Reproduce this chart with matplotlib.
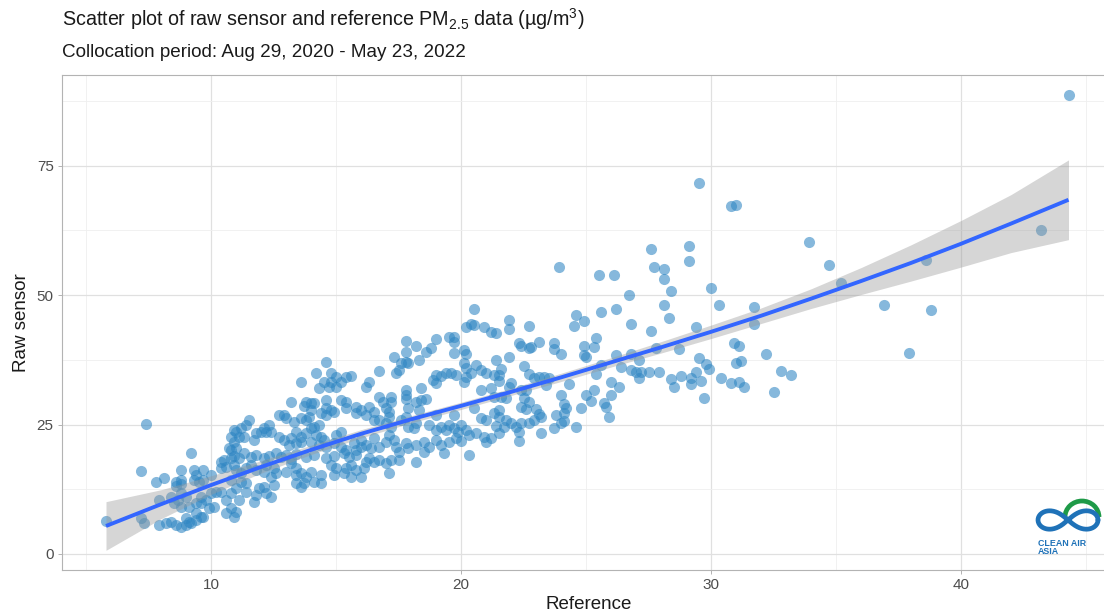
import numpy as np
import matplotlib
matplotlib.use("Agg")
import matplotlib.pyplot as plt
from matplotlib.patches import Arc

plt.rcParams["font.family"] = ["Liberation Sans", "DejaVu Sans"]
plt.rcParams["mathtext.fontset"] = "custom"
plt.rcParams["mathtext.rm"] = "Liberation Sans"
plt.rcParams["mathtext.it"] = "Liberation Sans:italic"

# collocated pairs: reference monitor (x) vs raw low-cost sensor (y)
reference = [
    # high end
    33.9, 34.7, 35.2, 36.9, 38.8, 37.9, 38.6, 43.2, 44.3, 32.8, 33.2, 32.2,
    # 27-32
    29.5, 30.8, 31.0, 27.6, 29.1, 29.1, 27.7, 28.1, 28.1, 28.4, 30.0, 30.3, 31.7, 31.7,
    28.1, 28.3, 26.7, 26.8, 27.6, 29.4, 27.8, 28.7, 30.9, 31.1, 27.1, 29.5, 29.8, 29.9,
    31.0, 31.2, 26.8, 27.0, 27.2, 27.5, 27.9, 27.1, 28.4, 28.8, 29.2, 29.4, 29.6, 28.5,
    29.2, 30.4, 30.8, 31.1, 31.3, 32.5, 29.7,
    # 21-27
    23.9, 25.5, 26.1, 25.6, 26.2, 24.6, 24.9, 24.5, 21.9, 22.7, 21.4, 23.1, 23.7, 23.7,
    24.0, 22.3, 22.4, 22.7, 22.8, 25.4, 24.9, 25.3, 24.9, 25.0, 21.9, 21.4, 26.2, 25.6,
    26.8, 26.4, 22.5, 21.6, 21.5, 21.5, 22.7, 22.9, 23.1, 23.3, 23.5, 23.4, 24.3, 25.4,
    26.0, 26.3, 25.0, 25.3, 26.0, 22.0, 21.9, 22.4, 22.6, 24.0, 21.6, 21.8, 22.5, 22.7,
    24.1, 24.2, 24.8, 25.2, 25.7, 25.8, 25.9, 22.4, 22.6, 21.5, 23.0, 23.1, 23.2, 22.9,
    23.8, 24.1, 24.1, 24.0, 24.6, 23.7, 23.2, 22.3, 22.3, 21.8, 21.7, 22.0, 22.2, 22.4,
    22.7, 21.4, 21.5,
    # 16-21.5
    20.2, 20.4, 20.5, 20.9, 21.2, 19.7, 19.7, 19.5, 19.0, 17.8, 18.2, 17.8, 18.6, 18.8,
    19.7, 20.1, 20.2, 17.3, 17.6, 17.8, 17.5, 17.4, 17.9, 18.3, 16.7, 20.1, 20.2, 20.6,
    20.8, 20.4, 21.0, 21.3, 19.0, 19.2, 19.4, 19.6, 19.8, 18.9, 19.0, 20.1, 20.2, 16.3,
    16.2, 17.8, 17.8, 18.4, 20.8, 21.2, 21.3, 16.7, 16.9, 17.2, 17.2, 17.0, 17.1, 17.8,
    18.2, 18.4, 18.6, 17.9, 18.3, 19.0, 19.7, 20.5, 20.8, 21.0, 21.3, 16.3, 16.5, 16.2,
    16.5, 16.7, 17.1, 17.0, 17.2, 17.6, 17.8, 17.9, 18.1, 18.2, 18.7, 19.0, 19.2, 19.4,
    19.5, 19.7, 19.9, 20.0, 20.2, 20.3, 19.8, 20.0, 19.5, 20.6, 20.9, 21.0, 21.2, 19.0,
    19.2, 19.3, 18.5, 18.7, 18.5, 17.8, 17.9, 18.2, 17.1, 17.3, 17.0, 17.4, 17.5, 16.5,
    16.2, 16.4, 16.7, 16.3, 16.5, 16.7, 17.0, 17.2, 17.5, 18.2, 20.3, 17.1, 21.5, 20.5,
    21.9,
    # 10.8-16.2
    14.6, 14.2, 13.6, 14.8, 15.0, 15.4, 15.6, 14.5, 14.8, 15.2, 14.3, 14.7, 15.0, 13.2,
    13.8, 14.0, 14.1, 14.0, 13.7, 14.6, 14.6, 14.8, 14.9, 15.2, 15.4, 15.4, 15.8, 16.0,
    15.8, 12.7, 12.9, 13.0, 13.3, 13.6, 13.8, 13.9, 14.4, 14.6, 14.1, 14.3, 14.0, 12.3,
    12.1, 12.0, 12.2, 12.4, 11.4, 11.2, 11.0, 11.3, 11.1, 11.5, 11.8, 11.7, 10.8, 10.9,
    10.8, 11.0, 12.7, 12.9, 13.2, 13.1, 13.4, 13.6, 13.8, 14.2, 13.4, 13.6, 14.0, 14.4,
    14.5, 14.3, 14.6, 15.0, 15.2, 14.9, 15.2, 15.4, 15.7, 15.8, 16.0, 16.0,
    10.9, 11.1, 11.3, 11.6, 11.8, 12.1, 12.3, 12.6, 12.8, 13.0, 13.2, 13.4, 13.8, 14.1,
    14.6, 14.9, 15.3, 15.5, 15.8,
    13.2, 13.4, 13.0, 13.4, 13.6, 13.8, 13.4, 13.6, 13.7, 14.0, 14.4, 14.4, 14.1,
    14.8, 15.0, 15.4, 15.6, 15.8, 16.1, 16.2, 14.9, 15.3, 15.6, 16.0,
    10.9, 11.0, 11.2, 11.4, 11.6, 11.8, 12.1, 12.2, 12.5, 12.6, 12.4,
    10.8, 11.2, 11.4, 11.0, 10.8, 11.4, 11.8, 11.9, 12.1, 12.2, 12.5, 12.4, 11.7, 11.1,
    10.8, 11.0, 10.9,
    # low end
    7.4, 9.2, 7.2, 7.8, 8.1, 8.8, 8.6, 8.8, 8.8, 8.6, 9.3, 9.7, 9.4, 9.3, 9.5, 9.7, 10.0,
    10.4, 10.6, 10.4, 10.7, 10.9, 10.5, 10.8,
    7.9, 8.4, 8.8, 9.0, 8.7, 8.5, 8.8, 9.1, 9.4, 9.6, 9.6, 9.8, 9.9, 10.1, 9.4, 9.7, 9.0,
    10.0, 10.2, 10.4, 10.6, 10.6,
    5.8, 7.2, 7.3, 7.9, 8.2, 8.4, 8.6, 8.8, 9.1, 9.4, 9.6, 9.0, 9.2,
]
raw_sensor = [
    60.2, 55.8, 52.3, 48.1, 47.1, 38.8, 56.8, 62.5, 88.6, 35.3, 34.6, 38.6,
    71.6, 67.2, 67.4, 58.9, 59.5, 56.6, 55.4, 55.0, 53.1, 50.8, 51.3, 48.1, 47.7, 44.4,
    48.1, 45.6, 50.0, 44.4, 43.1, 43.8, 39.8, 39.6, 40.7, 40.2, 37.5, 37.8, 36.7, 35.7,
    36.9, 37.3, 35.5, 35.1, 35.1, 35.1, 35.1, 34.0, 33.8, 34.4, 34.0, 35.1, 33.4, 32.2,
    32.8, 34.0, 33.0, 33.2, 32.2, 31.3, 30.1,
    55.4, 53.9, 53.9, 46.7, 47.3, 46.1, 45.0, 44.0, 45.2, 44.0, 42.7, 40.9, 40.7, 39.6,
    38.6, 40.7, 40.2, 39.8, 40.0, 41.7, 40.2, 40.0, 38.4, 38.0, 38.0, 37.5, 38.4, 36.5,
    38.6, 36.1, 36.3, 35.7, 34.6, 33.4, 34.7, 34.0, 34.2, 34.2, 34.0, 32.6, 32.8, 34.7,
    33.2, 32.2, 30.7, 31.7, 30.7, 33.0, 32.2, 31.7, 31.7, 30.7, 30.3, 30.1, 30.1, 29.3,
    29.0, 28.2, 28.2, 29.5, 29.2, 28.4, 26.4, 28.4, 28.0, 27.8, 28.0, 27.0, 26.4, 25.9,
    26.8, 27.2, 25.7, 25.3, 24.5, 24.3, 23.4, 23.6, 21.8, 25.9, 24.5, 25.3, 24.5, 25.3,
    25.3, 24.7, 26.4,
    43.8, 44.4, 44.2, 43.8, 42.9, 41.9, 40.9, 41.9, 41.5, 41.1, 40.2, 39.0, 39.0, 39.8,
    38.8, 39.4, 38.6, 38.0, 36.9, 37.1, 35.5, 34.9, 36.9, 37.5, 35.3, 36.9, 35.9, 36.5,
    35.5, 34.9, 34.9, 34.6, 34.6, 34.4, 34.9, 34.9, 34.6, 33.6, 33.0, 33.2, 34.2, 33.2,
    32.2, 31.7, 30.7, 32.0, 31.7, 32.0, 30.3, 30.3, 29.3, 30.3, 29.3, 28.2, 27.4, 29.9,
    29.3, 29.7, 29.9, 28.2, 27.8, 26.8, 26.8, 28.2, 26.3, 25.9, 27.2, 28.4, 27.4, 26.8,
    25.9, 25.9, 26.4, 25.3, 24.5, 25.9, 26.4, 24.5, 24.3, 25.3, 24.9, 23.9, 24.5, 23.9,
    24.9, 24.3, 23.6, 24.9, 23.9, 23.0, 22.4, 21.8, 21.6, 23.4, 22.6, 21.6, 22.4, 22.0,
    21.0, 19.5, 21.6, 20.7, 19.7, 21.4, 20.5, 21.0, 23.0, 22.0, 21.6, 20.7, 19.7, 22.4,
    21.0, 20.5, 20.7, 18.5, 17.8, 18.1, 17.6, 18.1, 18.1, 17.8, 19.1, 15.6, 23.4, 47.3,
    43.4,
    37.1, 34.9, 33.2, 34.9, 34.2, 34.2, 34.4, 33.2, 33.2, 33.2, 32.0, 32.2, 32.2, 29.3,
    29.3, 29.2, 29.2, 27.8, 28.6, 29.7, 28.2, 27.8, 27.4, 29.7, 29.3, 28.2, 28.4, 27.8,
    27.2, 26.8, 26.8, 26.3, 25.5, 26.3, 25.9, 26.4, 27.2, 26.8, 24.5, 24.9, 24.3, 24.9,
    24.3, 23.6, 23.6, 23.6, 24.9, 24.3, 23.6, 22.6, 22.6, 25.9, 23.4, 22.0, 22.6, 21.6,
    20.1, 20.5, 22.6, 22.0, 22.4, 21.0, 23.6, 22.6, 23.4, 23.0, 21.4, 21.6, 21.6, 22.6,
    22.0, 21.0, 20.7, 23.0, 23.6, 21.4, 20.7, 20.1, 21.4, 20.1, 20.7, 22.0,
    19.0, 18.6, 19.4, 18.8, 19.2, 18.5, 19.0, 19.5, 18.7, 19.1, 18.4, 19.3, 18.8, 19.2,
    18.6, 19.0, 19.4, 18.7, 19.1,
    17.6, 16.6, 15.8, 15.3, 15.6, 14.9, 13.7, 12.9, 13.7, 15.8, 15.3, 13.7, 13.9,
    17.2, 16.6, 16.6, 17.2, 16.2, 16.6, 17.8, 15.3, 15.6, 14.9, 14.9,
    17.2, 16.2, 15.6, 16.6, 17.2, 16.2, 15.8, 17.2, 16.6, 15.6, 14.9,
    14.3, 13.9, 13.7, 12.7, 11.8, 12.0, 11.4, 12.7, 12.9, 11.8, 13.3, 11.0, 10.0, 10.4,
    8.9, 8.1, 7.1,
    25.1, 19.5, 16.0, 13.9, 14.7, 16.2, 13.9, 14.3, 13.5, 13.1, 16.2, 16.2, 15.3, 14.3,
    13.9, 14.3, 15.3, 17.8, 16.8, 16.6, 20.5, 23.9, 18.1, 18.5,
    10.4, 11.0, 11.8, 11.0, 10.4, 9.8, 9.1, 9.1, 9.8, 11.0, 9.8, 10.4, 8.9, 9.1, 7.9, 7.1,
    6.9, 11.8, 12.0, 12.0, 10.4, 7.9,
    6.4, 6.9, 6.0, 5.6, 6.0, 6.2, 5.6, 5.2, 6.2, 6.6, 7.1, 5.6, 6.0,
]
assert len(reference) == len(raw_sensor)

# smoothed trend with its 95% confidence band
fit_x = [5.8, 8, 10, 12, 14, 16, 18, 20, 22, 24, 26, 28, 30, 32, 34, 36, 38, 40, 42, 44.3]
fit_y = [5.4, 9.6, 13.3, 16.8, 20.1, 23.2, 26.0, 28.6, 31.3, 34.1, 37.0, 39.9, 42.9,
         46.0, 49.3, 52.7, 56.2, 59.9, 63.8, 68.4]
fit_lo = [0.7, 6.8, 11.5, 15.6, 19.2, 22.4, 25.3, 27.9, 30.6, 33.3, 36.1, 38.8, 41.6,
          44.5, 47.4, 50.1, 52.7, 55.4, 58.2, 60.7]
fit_hi = [10.1, 12.4, 15.1, 18.0, 21.0, 24.0, 26.7, 29.3, 32.0, 34.9, 37.9, 41.0, 44.2,
          47.5, 51.2, 55.3, 59.7, 64.4, 69.4, 76.1]

x_ticks = [10, 20, 30, 40]
y_ticks = [0, 25, 50, 75]

W, H = 1104, 616
fig = plt.figure(figsize=(W / 100, H / 100), dpi=100)
ax = fig.add_axes([62 / W, 46 / H, 1 - 62 / W, 495 / H])

ax.scatter(reference, raw_sensor, s=64, color="#2F86C3", alpha=0.58,
           linewidths=0, zorder=3)
ax.fill_between(fit_x, fit_lo, fit_hi, color="#999999", alpha=0.4,
                linewidth=0, zorder=4)
ax.plot(fit_x, fit_y, color="#3366FF", lw=2.8, solid_capstyle="butt",
        solid_joinstyle="round", zorder=5)

ax.set_xlim(4.04, 45.72)
ax.set_ylim(-3.1, 92.5)
ax.set_xticks(x_ticks)
ax.set_yticks(y_ticks)
ax.set_xticks([5, 15, 25, 35, 45], minor=True)
ax.set_yticks([12.5, 37.5, 62.5, 87.5], minor=True)
ax.grid(which="major", color="#E0E0E0", lw=0.9)
ax.grid(which="minor", color="#EFEFEF", lw=0.6)
ax.set_axisbelow(True)
ax.tick_params(which="major", length=3, width=0.7, color="#B3B3B3",
               labelsize=11, labelcolor="#4D4D4D", pad=3)
ax.tick_params(which="minor", length=0)
for side in ["left", "bottom", "top"]:
    ax.spines[side].set_color("#B3B3B3")
    ax.spines[side].set_linewidth(0.8)
ax.spines["right"].set_visible(False)

ax.set_xlabel("Reference", fontsize=13.5, color="#1A1A1A")
ax.set_ylabel("Raw sensor", fontsize=13.5, color="#1A1A1A")
ax.xaxis.set_label_coords(0.505, -0.052)
ax.yaxis.set_label_coords(-0.031, 0.5)

fig.text(62 / W, 1 - 26 / H,
         r"Scatter plot of raw sensor and reference PM$_{\mathrm{2.5}}$ data (µg/m$^{\mathrm{3}}$)",
         fontsize=14.2, color="#1A1A1A", va="baseline", ha="left")
fig.text(62 / W, 1 - 57 / H, "Collocation period: Aug 29, 2020 - May 23, 2022",
         fontsize=13.6, color="#1A1A1A", va="baseline", ha="left")

# Clean Air Asia mark, bottom right
logo = fig.add_axes([1032 / W, 1 - 560 / H, 72 / W, 64 / H])
logo.set_xlim(0, 72)
logo.set_ylim(64, 0)
logo.axis("off")
t = np.linspace(0, 2 * np.pi, 200)
lx = 36 + 30 * np.cos(t) / (1 + np.sin(t) ** 2)
ly = 24 - 26 * np.sin(t) * np.cos(t) / (1 + np.sin(t) ** 2)
logo.plot(lx, ly, color="#1F72B8", lw=3.4, solid_capstyle="round")
logo.add_patch(Arc((50, 21), 34, 32, theta1=180, theta2=360, color="#1E9A48", lw=3.4))
logo.text(6, 48, "CLEAN AIR", fontsize=6.4, fontweight="bold", color="#1F72B8", va="center")
logo.text(6, 55.5, "ASIA", fontsize=6.4, fontweight="bold", color="#1F72B8", va="center")

fig.savefig("out.png", dpi=100)
